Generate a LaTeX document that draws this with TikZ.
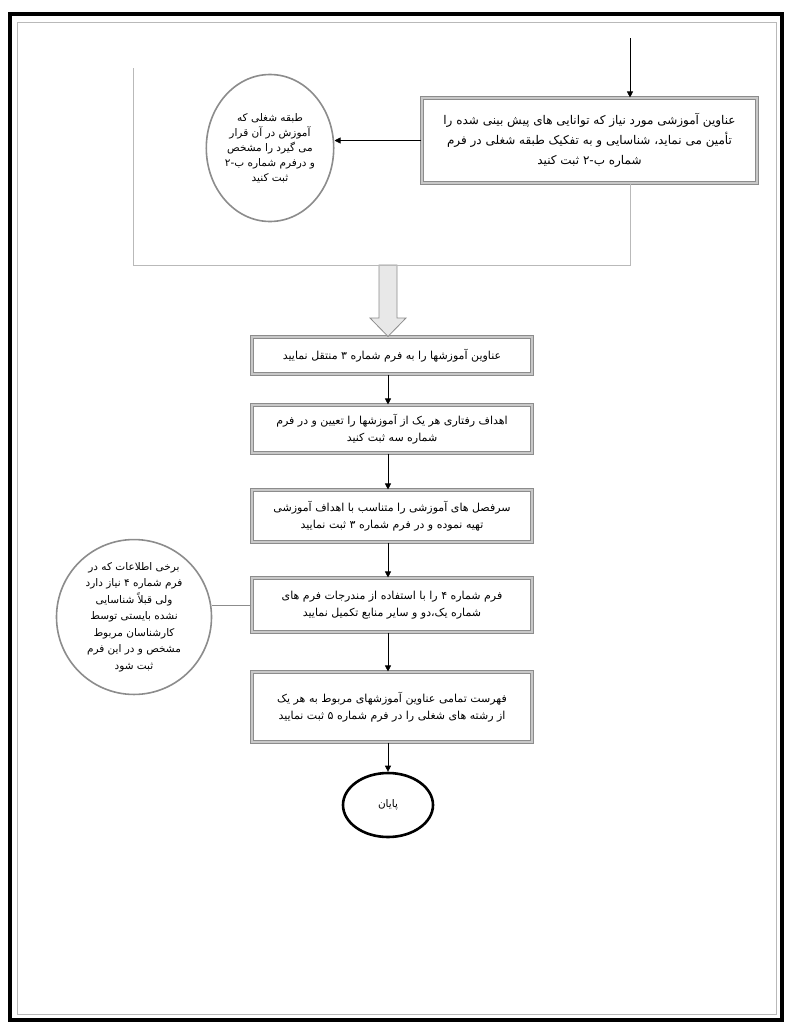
\documentclass[tikz,border=0pt]{standalone}
\usepackage{fontspec}
\usepackage{tikz}
\usetikzlibrary{shapes.geometric, arrows.meta, positioning, calc}
\newfontfamily\arabicfont[Script=Arabic]{DejaVu Sans}
\TeXXeTstate=1
\newcommand{\fa}[1]{\beginR #1\endR}
\definecolor{boxgray}{RGB}{140,140,140}
\definecolor{boxfill}{RGB}{200,200,200}
\definecolor{linegray}{RGB}{185,185,185}
\definecolor{blockfill}{RGB}{232,232,232}
\tikzstyle{stepbox} = [rectangle, minimum width=280pt, text centered, align=center, draw=boxgray, double=boxfill, double distance=1.2pt, line width=1.1pt, fill=white, font=\arabicfont\fontsize{11}{17}\selectfont]
\tikzstyle{note} = [ellipse, inner sep=0pt, align=center, draw=boxgray, line width=1.6pt, fill=white]
\tikzstyle{terminal} = [ellipse, minimum width=90pt, minimum height=64pt, draw=black, line width=2.6pt, font=\arabicfont\fontsize{10.5}{12}\selectfont]
\tikzstyle{flow} = [semithick, -{Triangle[length=6pt, width=6pt]}]
\tikzstyle{link} = [thin, draw=boxgray]
\tikzstyle{loopline} = [thin, draw=linegray]
\tikzstyle{blockarrow} = [draw=boxgray, fill=blockfill, line width=0.8pt]

\begin{document}
\begin{tikzpicture}[x=1pt, y=-1pt]
\useasboundingbox (0,0) rectangle (785,1023);

% Page frame
\draw[line width=4pt] (10,14) rectangle (782,1020);
\draw[linegray, thin] (17,22) rectangle (776,1014);

% Top step and its note
\coordinate (top) at (630,38);
\node[stepbox, minimum width=335pt, minimum height=85pt, font=\arabicfont\fontsize{12}{20}\selectfont] (step1) at (589.5,140.5) {\fa{عناوین آموزشی مورد نیاز که توانایی های پیش بینی شده را}\\\fa{تأمین می نماید، شناسایی و به تفکیک طبقه شغلی در فرم}\\\fa{شماره ب-۲ ثبت کنید}};
\node[note, minimum width=120pt, minimum height=147pt, font=\arabicfont\fontsize{10.5}{15}\selectfont] (job) at (270,148) {\fa{طبقه شغلی که}\\\fa{آموزش در آن قرار}\\\fa{می گیرد را مشخص}\\\fa{و درفرم شماره ب-۲}\\\fa{ثبت کنید}};

% Loop round the top step
\coordinate (loopR) at (630,265);
\coordinate (loopL) at (133,265);
\coordinate (loopT) at (133,68);

% Main steps
\node[stepbox, minimum height=37pt] (move) at (392,355.5) {\fa{عناوین آموزشها را به فرم شماره ۳ منتقل نمایید}};
\node[stepbox, minimum height=48pt] (goals) at (392,429) {\fa{اهداف رفتاری هر یک از آموزشها را تعیین و در فرم}\\\fa{شماره سه ثبت کنید}};
\node[stepbox, minimum height=52pt] (heads) at (392,516) {\fa{سرفصل های آموزشی را متناسب با اهداف آموزشی}\\\fa{تهیه نموده و در فرم شماره ۳ ثبت نمایید}};
\node[stepbox, minimum height=54pt] (form4) at (392,605) {\fa{فرم شماره ۴ را با استفاده از مندرجات فرم های}\\\fa{شماره یک،دو و سایر منابع تکمیل نمایید}};
\node[stepbox, minimum height=70pt] (list) at (392,707) {\fa{فهرست تمامی عناوین آموزشهای مربوط به هر یک}\\\fa{از رشته های شغلی را در فرم شماره ۵ ثبت نمایید}};
\node[terminal] (finish) at (388,805) {\fa{پایان}};

% Side note
\node[note, minimum width=155pt, minimum height=145pt, font=\arabicfont\fontsize{10.5}{16.5}\selectfont] (info) at (134,617) {\fa{برخی اطلاعات که در}\\\fa{فرم شماره ۴ نیاز دارد}\\\fa{ولی قبلاً شناسایی}\\\fa{نشده بایستی توسط}\\\fa{کارشناسان مربوط}\\\fa{مشخص و در این فرم}\\\fa{ثبت شود}};

% Block arrow out of the loop
\coordinate (blocktail) at (388,265);
\draw[blockarrow] ($(blocktail)+(-9,0)$) -- ++(0,53) -- ++(-9,0) -- (move.north -| blocktail) -- ($(blocktail)+(18,53)$) -- ++(-9,0) -- ++(0,-53) -- cycle;

% Arrows
\draw[flow] (top) -- (top |- step1.north);
\draw[flow] (step1.west) -- (job.east |- step1.west);
\draw[loopline] (top |- step1.south) -- (loopR) -- (loopL) -- (loopT);
\draw[flow] (move.south -| finish) -- (goals.north -| finish);
\draw[flow] (goals.south -| finish) -- (heads.north -| finish);
\draw[flow] (heads.south -| finish) -- (form4.north -| finish);
\draw[flow] (form4.south -| finish) -- (list.north -| finish);
\draw[flow] (list.south -| finish) -- (finish.north);
\draw[link] (form4.west) -- (info.east |- form4.west);

\end{tikzpicture}
\end{document}
